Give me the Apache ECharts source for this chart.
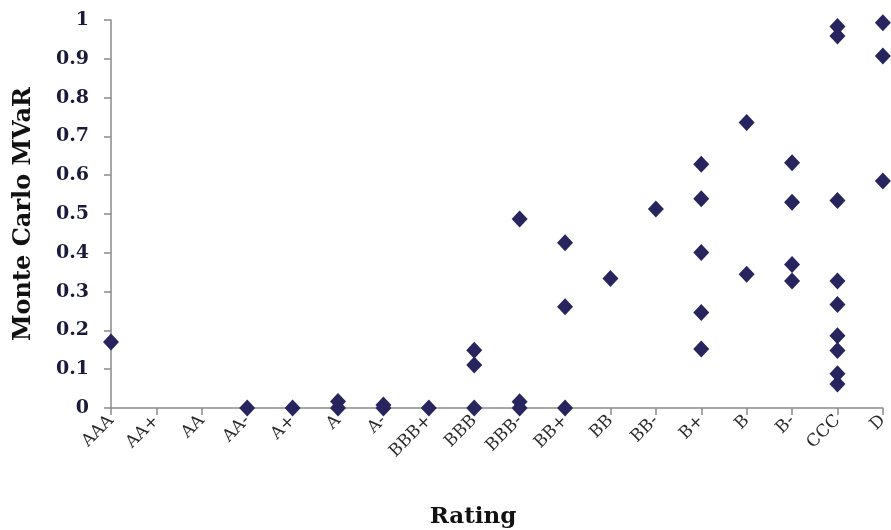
<!DOCTYPE html>
<html>
<head>
<meta charset="utf-8">
<script src="https://cdn.jsdelivr.net/npm/echarts@6/dist/echarts.min.js"></script>
<style>
  html, body { margin: 0; padding: 0; background: #fff; }
  #chart { width: 891px; height: 530px; }
</style>
</head>
<body>
<div id="chart"></div>
<script>
// Credit ratings along the horizontal axis
const ratings = ['AAA', 'AA+', 'AA', 'AA-', 'A+', 'A', 'A-', 'BBB+', 'BBB', 'BBB-',
                 'BB+', 'BB', 'BB-', 'B+', 'B', 'B-', 'CCC', 'D'];

// Monte Carlo MVaR observations for each rating (same order as ratings)
const mvarByRating = [
  [0.17],                                              // AAA
  [],                                                  // AA+
  [],                                                  // AA
  [0],                                                 // AA-
  [0],                                                 // A+
  [0.017, 0],                                          // A
  [0.008, 0],                                          // A-
  [0],                                                 // BBB+
  [0.149, 0.111, 0],                                   // BBB
  [0.487, 0.016, 0],                                   // BBB-
  [0.426, 0.261, 0],                                   // BB+
  [0.334],                                             // BB
  [0.513],                                             // BB-
  [0.628, 0.539, 0.401, 0.246, 0.152],                 // B+
  [0.736, 0.345],                                      // B
  [0.632, 0.530, 0.370, 0.327],                        // B-
  [0.983, 0.959, 0.535, 0.327, 0.267, 0.186, 0.148, 0.088, 0.062], // CCC
  [0.993, 0.907, 0.585]                                // D
];

// Y axis tick values
const yTicks = [0, 0.1, 0.2, 0.3, 0.4, 0.5, 0.6, 0.7, 0.8, 0.9, 1];

const points = [];
mvarByRating.forEach((vals, i) => {
  vals.forEach(v => points.push([ratings[i], v]));
});

const serif = 'DejaVu Serif';
const chart = echarts.init(document.getElementById('chart'), null, { renderer: 'canvas' });

chart.setOption({
  animation: false,
  backgroundColor: '#ffffff',
  grid: { left: 111, right: 4, top: 20, bottom: 122, containLabel: false },
  xAxis: {
    type: 'category',
    data: ratings,
    boundaryGap: false,
    axisLine: { lineStyle: { color: '#8a8a8a', width: 1.5 } },
    axisTick: { show: true, length: 7, lineStyle: { color: '#8a8a8a', width: 1.5 } },
    axisLabel: {
      interval: 0,
      rotate: 45,
      margin: 10,
      fontFamily: serif,
      fontSize: 17,
      color: '#2a2a2a'
    },
    splitLine: { show: false }
  },
  yAxis: {
    type: 'value',
    min: yTicks[0],
    max: yTicks[yTicks.length - 1],
    interval: 0.1,
    name: 'Monte Carlo MVaR',
    nameLocation: 'middle',
    nameGap: 75,
    nameTextStyle: { fontFamily: serif, fontWeight: 'bold', fontSize: 24, color: '#111' },
    axisLine: { show: true, lineStyle: { color: '#8a8a8a', width: 1.5 } },
    axisTick: { show: true, length: 7, lineStyle: { color: '#8a8a8a', width: 1.5 } },
    axisLabel: {
      margin: 22,
      fontFamily: serif,
      fontSize: 19,
      fontWeight: 'bold',
      color: '#1a1a3a'
    },
    splitLine: { show: false }
  },
  graphic: [{
    type: 'text',
    x: 473,
    y: 517,
    style: {
      text: 'Rating',
      font: 'bold 23px "DejaVu Serif"',
      fill: '#111',
      align: 'center',
      verticalAlign: 'middle'
    }
  }],
  series: [{
    type: 'scatter',
    data: points,
    symbol: 'diamond',
    symbolSize: [16, 17],
    itemStyle: { color: '#27245e', opacity: 1 },
    clip: false
  }]
});
</script>
</body>
</html>
